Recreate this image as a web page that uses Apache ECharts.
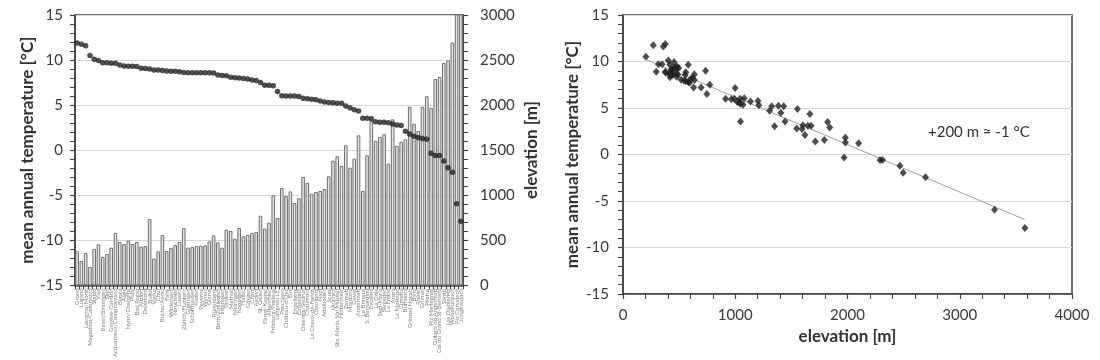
<!DOCTYPE html>
<html><head><meta charset="utf-8">
<script src="https://cdn.jsdelivr.net/npm/echarts@6/dist/echarts.min.js"></script>
<style>html,body{margin:0;padding:0;background:#fff}#c{width:1100px;height:360px}</style>
</head><body><div id="c"></div>
<script>
const stations = [
"Grono","Lugano","Locarno/Monti","Magadino/Cadenazzo","Stabio","Visp","Basel/Binningen","Sion","Genève-Cointrin","Acquarossa/Comprovasco",
"Biasca","Aigle","Nyon/Changins","Pully","Bad Ragaz","Altdorf","Delémont","Bullet","Vaduz","Chur",
"Buchs/Aarau","Fahy","Wädenswil","Neuchâtel","Luzern","Zürich/Fluntern","Güttingen","Schaffhausen","Kloten","Payerne",
"Wynau","Glarus","Rünenberg","Bern/Zollikofen","Interlaken","Tänikon","Mathod","Meiringen","Koppigen","Hallau",
"Gösgen","Cham","Aadorf","St. Gallen","Ebnat-Kappel","Altenrhein","Fribourg/Posieux","Langnau i.E.","Poschiavo","Château-d'Oex",
"Elm","Engelberg","Einsiedeln","Disentis/Sedrun","Chaumont","La Chaux-de-Fonds","Oberiberg","Napf","Adelboden","Scuol",
"Ulrichen","Sta. Maria, Val Müstair","Hinterrhein","Zermatt","Montana","Davos","Andermatt","Le Brassus","S. Bernardino","Evolène",
"La Dôle","Segl-Maria","Samedan","La Frétaz","Arosa","Le Moléson","Cimetta","Buffalora","Grimsel Hospiz","Bivio",
"Robiei","Grimsel","Pilatus","Piz Martegnas","Gütsch ob Andermatt","Col du Grand St-Bernard","Säntis","Les Diablerets","Weissfluhjoch","Piz Corvatsch",
"Jungfraujoch"
];
const elevation = [
377,270,359,204,403,455,315,348,418,581,
481,459,496,459,481,429,437,736,296,377,
559,381,414,448,481,636,418,426,437,440,
444,488,555,477,418,618,603,518,636,544,
559,581,592,773,629,696,999,747,1080,992,
1043,914,966,1202,1136,1017,1036,1047,1069,1210,
1384,1432,1325,1554,1306,1406,1665,1047,1443,1823,
1603,1647,1676,1350,1842,1548,1595,1621,1981,1794,
1713,1981,2099,1970,2290,2312,2467,2496,2695,3310,
3580
];
const temperature = [
11.88,11.75,11.6,10.5,10.1,9.95,9.7,9.7,9.65,9.65,
9.45,9.35,9.3,9.3,9.28,9.1,9.05,9.0,8.9,8.9,
8.85,8.78,8.75,8.75,8.7,8.62,8.6,8.6,8.6,8.6,
8.6,8.58,8.57,8.35,8.3,8.27,8.1,8.05,8.0,7.95,
7.9,7.8,7.72,7.5,7.2,7.2,7.15,6.5,6.05,6.0,
6.0,6.0,5.95,5.75,5.7,5.65,5.6,5.45,5.35,5.3,
5.25,5.2,5.2,4.9,4.7,4.5,4.35,3.55,3.55,3.5,
3.15,3.1,3.1,3.05,2.9,2.8,2.75,2.1,1.8,1.55,
1.4,1.3,1.2,-0.33,-0.58,-0.6,-1.2,-1.95,-2.45,-5.95,
-7.9
];
const trendElevation = [210, 3580];
const trendTemperature = [10.2, -7.0];
const annotation = '+200 m ≈ -1 °C';

const FONT = 'Lato';
const dark = '#404040';
const axisLine = {show: true, onZero: false, lineStyle: {color: dark, width: 1.5}};
const tick = {show: true, length: 5, lineStyle: {color: dark, width: 1.2}};
const minor = {show: true, splitNumber: 5, length: 5, lineStyle: {color: dark, width: 1}};
const plain = v => String(v);
const lbl = {fontFamily: FONT, fontSize: 15, color: '#3a3a3a', formatter: plain};
const nameStyle = {fontFamily: FONT, fontSize: 17, fontWeight: 'bold', color: '#333'};
const grid = {color: '#d6d6d6', width: 1};

const chart = echarts.init(document.getElementById('c'), null, {renderer: 'canvas'});
chart.setOption({
  animation: false,
  backgroundColor: '#fff',
  grid: [
    {left: 75, top: 15, width: 388, height: 272, show: true, borderColor: dark, borderWidth: 1.5, backgroundColor: 'transparent'},
    {left: 623, top: 15, width: 449, height: 279, show: true, borderColor: dark, borderWidth: 1.5, backgroundColor: 'transparent'}
  ],
  xAxis: [
    {type: 'category', gridIndex: 0, data: stations, boundaryGap: true,
     axisLine: axisLine, axisTick: {show: true, interval: 0, length: 4, lineStyle: {color: dark}},
     axisLabel: {interval: 0, rotate: 90, fontSize: 6, color: '#808080', fontFamily: FONT, margin: 3},
     splitLine: {show: false}},
    {type: 'value', gridIndex: 1, min: 0, max: 4000, interval: 1000,
     name: 'elevation [m]', nameLocation: 'middle', nameGap: 34, nameTextStyle: nameStyle,
     axisLine: axisLine, axisTick: tick, minorTick: minor,
     axisLabel: Object.assign({margin: 14}, lbl), splitLine: {show: false}}
  ],
  yAxis: [
    {type: 'value', gridIndex: 0, min: -15, max: 15, interval: 5, position: 'left',
     name: 'mean annual temperature [°C]', nameLocation: 'middle', nameGap: 38, nameTextStyle: nameStyle,
     axisLine: axisLine, axisTick: tick, minorTick: minor,
     axisLabel: Object.assign({margin: 12}, lbl), splitLine: {show: true, lineStyle: grid}},
    {type: 'value', gridIndex: 0, min: 0, max: 3000, interval: 500, position: 'right',
     name: 'elevation [m]', nameLocation: 'middle', nameGap: 60, nameTextStyle: nameStyle,
     axisLine: axisLine, axisTick: tick, minorTick: minor,
     axisLabel: Object.assign({margin: 17}, lbl), splitLine: {show: false}},
    {type: 'value', gridIndex: 1, min: -15, max: 15, interval: 5,
     name: 'mean annual temperature [°C]', nameLocation: 'middle', nameGap: 42, nameTextStyle: nameStyle,
     axisLine: axisLine, axisTick: tick, minorTick: minor,
     axisLabel: Object.assign({margin: 14}, lbl), splitLine: {show: true, lineStyle: grid}}
  ],
  series: [
    {type: 'bar', xAxisIndex: 0, yAxisIndex: 1, data: elevation, clip: true,
     barCategoryGap: '16%', z: 1,
     itemStyle: {color: '#e4e4e4', borderColor: '#6e6e6e', borderWidth: 1}},
    {type: 'scatter', xAxisIndex: 0, yAxisIndex: 0, data: temperature, z: 3,
     symbol: 'circle', symbolSize: 5.5, itemStyle: {color: '#222'}},
    {type: 'line', xAxisIndex: 1, yAxisIndex: 2, z: 2,
     data: trendElevation.map((e, i) => [e, trendTemperature[i]]),
     showSymbol: false, lineStyle: {color: '#a0a0a0', width: 1}},
    {type: 'scatter', xAxisIndex: 1, yAxisIndex: 2, z: 3,
     data: elevation.map((e, i) => [e, temperature[i]]),
     symbol: 'diamond', symbolSize: [7, 8], itemStyle: {color: '#222'}}
  ],
  graphic: [
    {type: 'text', left: 928, top: 125,
     style: {text: annotation, fontFamily: FONT, fontSize: 15, fill: '#333'}}
  ]
});
</script>
</body></html>
